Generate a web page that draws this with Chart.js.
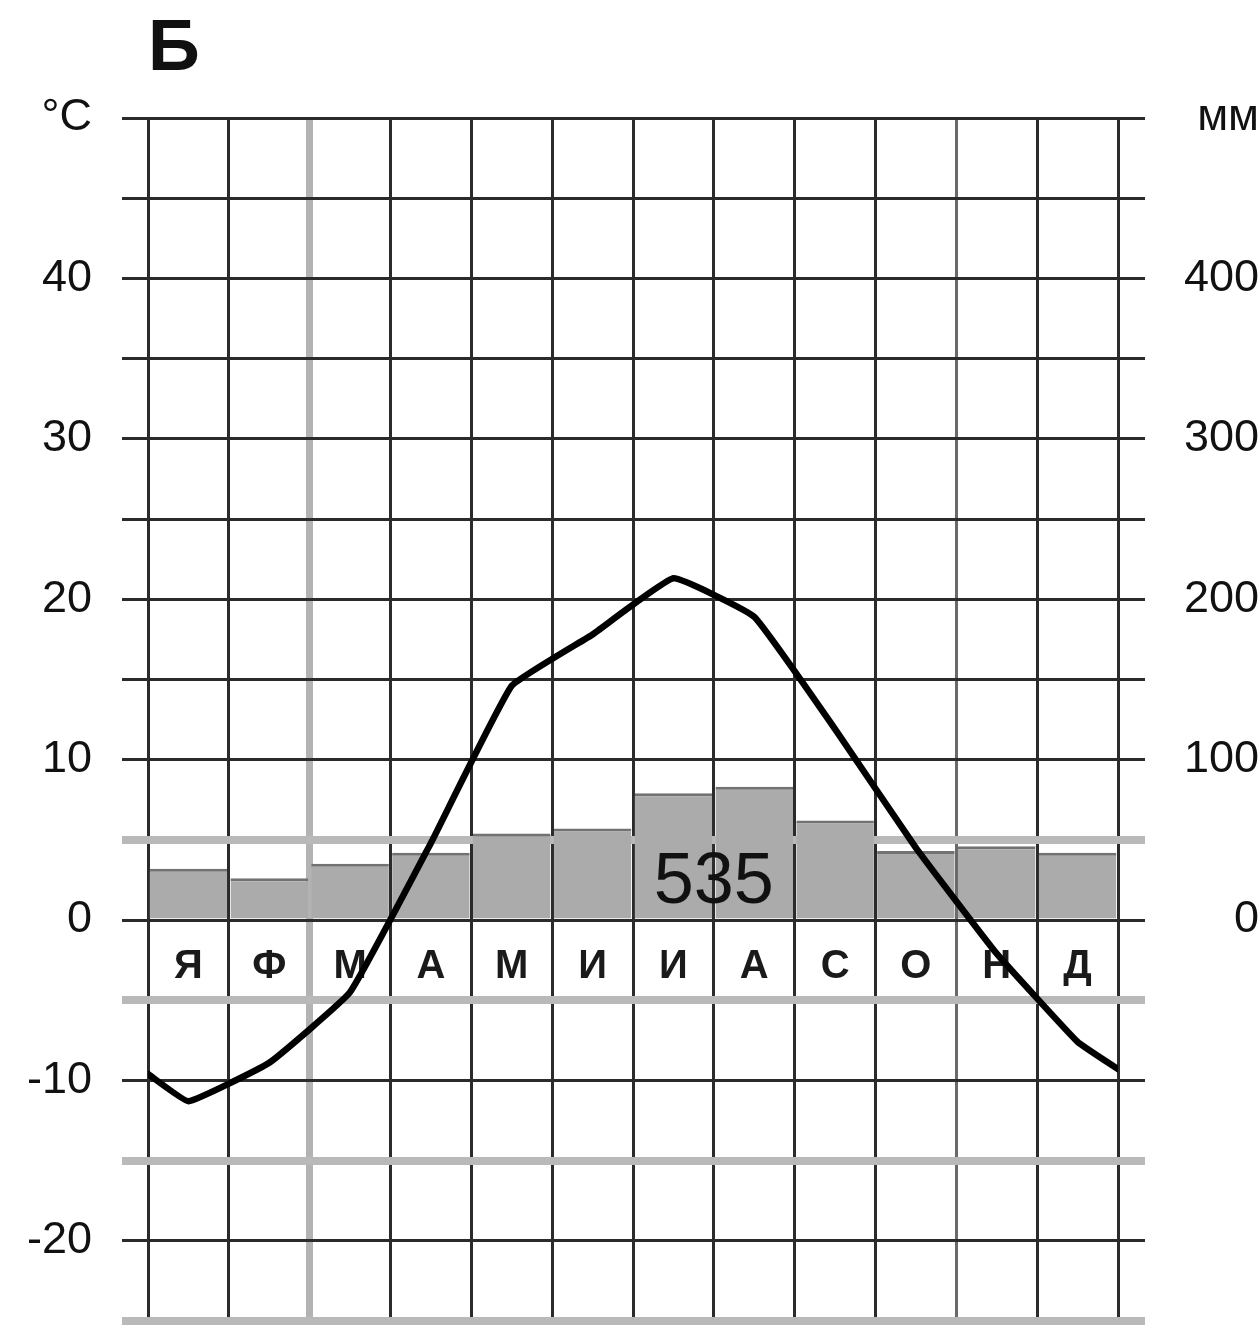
<!DOCTYPE html>
<html>
<head>
<meta charset="utf-8">
<script src="https://cdn.jsdelivr.net/npm/chart.js@4/dist/chart.umd.min.js"></script>
<style>
    html, body { margin: 0; padding: 0; background: #ffffff; }
    #wrap { width: 1259px; height: 1325px; position: relative; }
</style>
</head>
<body>
<div id="wrap"><canvas id="climate-chart"></canvas></div>
<script>
// Climate diagram "Б": monthly temperature (line) and precipitation (bars)

// Month letters under the zero line
const monthLabels = ['Я', 'Ф', 'М', 'А', 'М', 'И', 'И', 'А', 'С', 'О', 'Н', 'Д'];

// Precipitation, mm per month
const precipitation = [32, 26, 35, 42, 54, 57, 79, 83, 62, 43, 46, 42];

// Mean temperature, °C per month (mid-month)
const temperature = [-11.3, -8.9, -4.5, 4.8, 14.6, 17.8, 21.3, 18.9, 11.9, 4.5, -2.1, -7.6];

// The curve is carried on to the left and right edges of the grid
const tempAtYearStart = -9.6;
const tempAtYearEnd = -9.3;

// Annual precipitation total written on the bars
const annualTotal = '535';

const chartTitle = 'Б';
const tempUnit = '°C';
const precipUnit = 'мм';

const FONT = '"Liberation Sans", Arial, sans-serif';
const GRID_DARK = '#2b2b2b';
const GRID_LIGHT = '#b9b9b9';

// Horizontal lines at 5, -5, -15, -25 are the pale thick ones
function isPaleLine(temp) {
    return temp <= 5 && Math.abs(temp % 10) === 5;
}

function yGridColor(ctx) {
    return isPaleLine(ctx.tick.value) ? GRID_LIGHT : GRID_DARK;
}

function yGridWidth(ctx) {
    return isPaleLine(ctx.tick.value) ? 8 : 3;
}

// Same lines seen from the mm axis (10 mm = 1 °C)
function y2GridColor(ctx) {
    return isPaleLine(ctx.tick.value / 10) ? GRID_LIGHT : GRID_DARK;
}

function y2GridWidth(ctx) {
    return isPaleLine(ctx.tick.value / 10) ? 8 : 3;
}

function xGridColor(ctx) {
    if (ctx.tick.value === 2) return '#b3b3b3';
    if (ctx.tick.value === 10) return '#6a6a6a';
    return GRID_DARK;
}

function xGridWidth(ctx) {
    return ctx.tick.value === 2 ? 7 : 3;
}

// Keep the grid edges where the picture has them
function noPadding(scale) {
    scale.paddingTop = 0;
    scale.paddingBottom = 0;
    scale.paddingLeft = 0;
    scale.paddingRight = 0;
}

// Build point lists from the arrays
const barPoints = precipitation.map((mm, i) => ({ x: i + 0.5, y: mm }));
const linePoints = [{ x: 0, y: tempAtYearStart }]
    .concat(temperature.map((t, i) => ({ x: i + 0.5, y: t })))
    .concat([{ x: 12, y: tempAtYearEnd }]);

// Texts that sit inside the grid
const annotations = {
    id: 'annotations',
    beforeDatasetsDraw(chart) {
        const ctx = chart.ctx;
        const xs = chart.scales.x;
        const ys = chart.scales.y;
        ctx.save();
        ctx.fillStyle = '#1a1a1a';
        ctx.font = 'bold 40px ' + FONT;
        ctx.textAlign = 'center';
        ctx.textBaseline = 'middle';
        monthLabels.forEach((m, i) => {
            ctx.fillText(m, xs.getPixelForValue(i + 0.5), ys.getPixelForValue(-2.9));
        });
        ctx.restore();
    },
    afterDatasetsDraw(chart) {
        const ctx = chart.ctx;
        const xs = chart.scales.x;
        const ys = chart.scales.y;
        ctx.save();
        ctx.fillStyle = '#111111';
        ctx.font = '72px ' + FONT;
        ctx.textAlign = 'center';
        ctx.textBaseline = 'middle';
        ctx.fillText(annualTotal, xs.getPixelForValue(7), ys.getPixelForValue(2.3));

        ctx.font = 'bold 72px ' + FONT;
        ctx.textAlign = 'left';
        ctx.textBaseline = 'alphabetic';
        ctx.fillText(chartTitle, chart.chartArea.left, 70);
        ctx.restore();
    }
};

const ctx = document.getElementById('climate-chart');

new Chart(ctx, {
    type: 'bar',
    data: {
        datasets: [
            {
                type: 'line',
                label: 'Температура',
                data: linePoints,
                yAxisID: 'y',
                borderColor: '#000000',
                borderWidth: 6.5,
                pointRadius: 0,
                tension: 0.1,
                borderJoinStyle: 'round',
                borderCapStyle: 'round',
                order: 0
            },
            {
                type: 'bar',
                label: 'Осадки',
                data: barPoints,
                yAxisID: 'y2',
                backgroundColor: '#ababab',
                borderColor: '#727272',
                borderWidth: { top: 3, left: 0, right: 0, bottom: 0 },
                borderSkipped: 'start',
                barPercentage: 1,
                categoryPercentage: 0.96,
                order: 1
            }
        ]
    },
    options: {
        responsive: true,
        maintainAspectRatio: false,
        animation: false,
        layout: { padding: { top: 118, bottom: 0, left: 0, right: 0 } },
        plugins: {
            legend: { display: false },
            tooltip: { enabled: false }
        },
        scales: {
            x: {
                type: 'linear',
                min: 0,
                max: 12,
                offset: false,
                ticks: { display: false, stepSize: 1 },
                grid: {
                    color: xGridColor,
                    lineWidth: xGridWidth,
                    drawTicks: false,
                    offset: false
                },
                border: { display: false },
                afterFit(scale) {
                    scale.height = 4;
                    noPadding(scale);
                }
            },
            y: {
                position: 'left',
                min: -25,
                max: 50,
                ticks: {
                    stepSize: 5,
                    autoSkip: false,
                    padding: 30,
                    color: '#111111',
                    font: { family: FONT, size: 45 },
                    callback: (v) => {
                        if (v === 50) return tempUnit;
                        return v % 10 === 0 ? String(v) : '';
                    }
                },
                grid: {
                    color: yGridColor,
                    lineWidth: yGridWidth,
                    tickLength: 26
                },
                border: { display: false },
                afterFit(scale) {
                    scale.width = 148;
                    noPadding(scale);
                }
            },
            y2: {
                position: 'right',
                min: -250,
                max: 500,
                ticks: {
                    stepSize: 50,
                    autoSkip: false,
                    padding: 22,
                    crossAlign: 'far',
                    color: '#111111',
                    font: { family: FONT, size: 45 },
                    callback: (v) => {
                        if (v === 500) return precipUnit;
                        return (v >= 0 && v % 100 === 0) ? String(v) : '';
                    }
                },
                grid: {
                    drawOnChartArea: false,
                    color: y2GridColor,
                    lineWidth: y2GridWidth,
                    tickLength: 27
                },
                border: { display: false },
                afterFit(scale) {
                    scale.width = 141;
                    noPadding(scale);
                }
            }
        }
    },
    plugins: [annotations]
});
</script>
</body>
</html>
